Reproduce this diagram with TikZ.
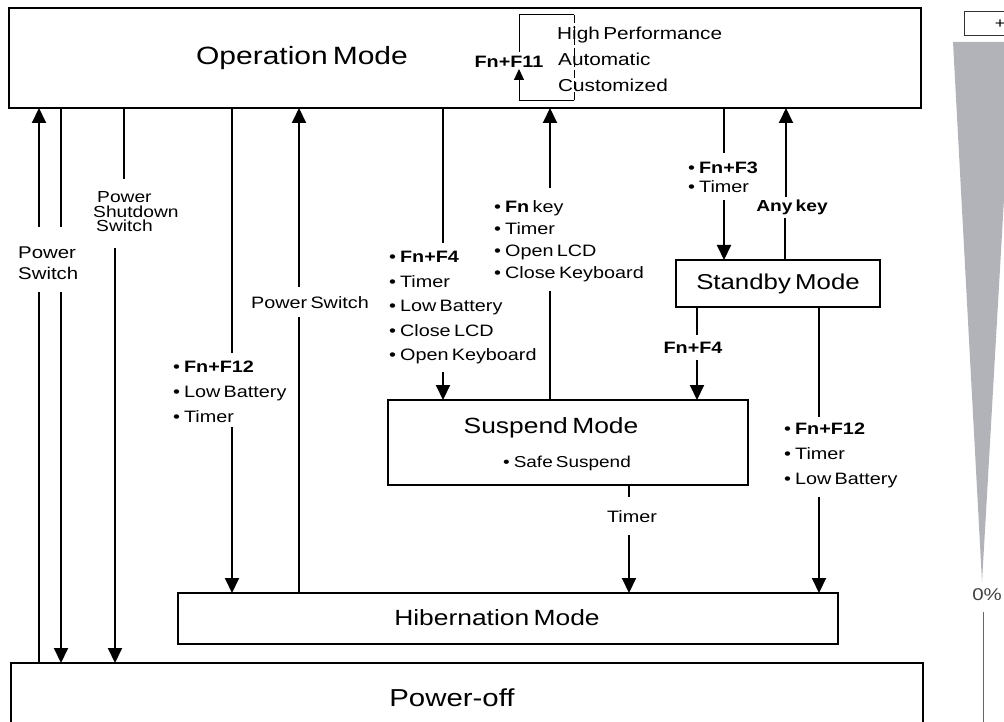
\documentclass[tikz,border=0pt]{standalone}
\usepackage{fontspec}
\setmainfont{Liberation Sans}[FakeStretch=1.2,WordSpace=0.6]
\usetikzlibrary{arrows.meta}
\definecolor{trigray}{RGB}{178,179,184}
\newcommand{\bul}{•\hspace{4pt}}
\begin{document}
\begin{tikzpicture}[x=1pt,y=-1pt,
  box/.style={draw,line width=2.5pt,outer sep=0pt,inner sep=0pt},
  ln/.style={line width=2pt},
  arr/.style={line width=2pt,-{Triangle[length=15pt,width=14pt]}},
  thinln/.style={line width=1pt},
  lab/.style={inner sep=0pt,align=left},
  txt/.style={inner sep=0pt}]
\useasboundingbox (0,0) rectangle (1004,722);
\clip (0,0) rectangle (1004,722);

% boxes
\node[box,minimum width=912pt,minimum height=100pt] (op) at (465,58) {};
\node[box,minimum width=204pt,minimum height=47pt,font=\fontsize{21.5}{24}\selectfont] (sb) at (778,283.5) {Standby Mode};
\node[box,minimum width=360pt,minimum height=85pt] (sus) at (568,442.5) {};
\node[box,minimum width=660pt,minimum height=51pt] (hib) at (508,618.5) {};
\node[box,minimum width=912pt,minimum height=80pt] (off) at (467,703) {};

% box texts
\node[txt,font=\fontsize{25}{28}\selectfont] (optext) at (302,58) {Operation Mode};
\node[txt,font=\fontsize{22}{24}\selectfont] (sustext) at (551,428) {Suspend Mode};
\node[txt,font=\fontsize{15.8}{18}\selectfont] (safe) at (567,463) {\bul Safe Suspend};
\node[txt,font=\fontsize{22}{24}\selectfont] (hibtext) at (497,618) {Hibernation Mode};
\node[txt,font=\fontsize{24.5}{27}\selectfont] (offtext) at (452,698) {Power-off};

% performance modes
\node[txt,anchor=base west,font=\fontsize{17.3}{20}\selectfont] (hp) at (557,40) {High Performance};
\node[txt,anchor=base west,font=\fontsize{17.3}{20}\selectfont] (au) at (558,66) {Automatic};
\node[txt,anchor=base west,font=\fontsize{17.3}{20}\selectfont] (cu) at (558,92) {Customized};
\node[txt,font=\fontsize{16.5}{19}\selectfont] (f11) at (509,62) {\textbf{Fn+F11}};
\coordinate (m1) at (519,52);
\coordinate (m2) at (519,69);
\coordinate (mt) at (519,15);
\coordinate (mtr) at (574,15);
\coordinate (mb) at (519,101);
\coordinate (mbr) at (574,101);
\draw[thinln] (m1) -- (mt) -- (mtr);
\draw[thinln,dash pattern=on 8pt off 3pt] (mtr) -- (mbr);
\draw[thinln,-{Triangle[length=11pt,width=10pt]}] (mbr) -- (mb) -- (m2);

% labels
\node[lab,anchor=west,font=\fontsize{17}{21}\selectfont] (pswl) at (18,263) {Power\\Switch};
\node[lab,anchor=west,font=\fontsize{16}{14.5}\selectfont] (shut) at (93,212) {\hspace{4pt}Power\\Shutdown\\\hspace{3pt}Switch};
\node[txt,font=\fontsize{16.5}{19}\selectfont] (pswm) at (310,303) {Power Switch};
\node[lab,anchor=west,font=\fontsize{16.5}{25}\selectfont] (f12l) at (173,392) {\bul\textbf{Fn+F12}\\\bul Low Battery\\\bul Timer};
\node[lab,anchor=west,font=\fontsize{16.5}{24.5}\selectfont] (f4) at (389,308) {\bul\textbf{Fn+F4}\\\bul Timer\\\bul Low Battery\\\bul Close LCD\\\bul Open Keyboard};
\node[lab,anchor=west,font=\fontsize{16.5}{22}\selectfont] (fnk) at (494,241) {\bul\textbf{Fn} key\\\bul Timer\\\bul Open LCD\\\bul Close Keyboard};
\node[lab,anchor=west,font=\fontsize{16.5}{19}\selectfont] (f3) at (688,177.5) {\bul\textbf{Fn+F3}\\\bul Timer};
\node[txt,font=\fontsize{16}{19}\selectfont] (any) at (792,207) {\textbf{Any key}};
\node[txt,font=\fontsize{16.5}{19}\selectfont] (fn4r) at (693,348) {\textbf{Fn+F4}};
\node[lab,anchor=west,font=\fontsize{16.5}{25}\selectfont] (f12r) at (784,455) {\bul\textbf{Fn+F12}\\\bul Timer\\\bul Low Battery};
\node[txt,font=\fontsize{16.5}{19}\selectfont] (tim) at (632,517) {Timer};

% connectors
\coordinate (a1) at (39,227); \coordinate (a2) at (39,292);
\draw[arr] (a1) -- (a1 |- op.south);
\draw[ln] (a2) -- (a2 |- off.north);
\coordinate (b1) at (61,227); \coordinate (b2) at (61,292);
\draw[ln] (b1 |- op.south) -- (b1);
\draw[arr] (b2) -- (b2 |- off.north);
\coordinate (c1) at (124,179); \coordinate (c2) at (115,248);
\draw[ln] (c1 |- op.south) -- (c1);
\draw[arr] (c2) -- (c2 |- off.north);
\coordinate (d1) at (232,353); \coordinate (d2) at (232,427);
\draw[ln] (d1 |- op.south) -- (d1);
\draw[arr] (d2) -- (d2 |- hib.north);
\coordinate (e1) at (299,317); \coordinate (e2) at (299,287);
\draw[ln] (e1 |- hib.north) -- (e1);
\draw[arr] (e2) -- (e2 |- op.south);
\coordinate (f1) at (443,243); \coordinate (f2) at (443,372);
\draw[ln] (f1 |- op.south) -- (f1);
\draw[arr] (f2) -- (f2 |- sus.north);
\coordinate (g1) at (550,291); \coordinate (g2) at (550,188);
\draw[ln] (g1 |- sus.north) -- (g1);
\draw[arr] (g2) -- (g2 |- op.south);
\coordinate (h1) at (724,153); \coordinate (h2) at (724,200);
\draw[ln] (h1 |- op.south) -- (h1);
\draw[arr] (h2) -- (h2 |- sb.north);
\coordinate (i1) at (785,218); \coordinate (i2) at (786,197);
\draw[ln] (i1 |- sb.north) -- (i1);
\draw[arr] (i2) -- (i2 |- op.south);
\coordinate (j1) at (697,335); \coordinate (j2) at (697,360);
\draw[ln] (j1 |- sb.south) -- (j1);
\draw[arr] (j2) -- (j2 |- sus.north);
\coordinate (k1) at (819,417); \coordinate (k2) at (819,497);
\draw[ln] (k1 |- sb.south) -- (k1);
\draw[arr] (k2) -- (k2 |- hib.north);
\coordinate (l1) at (629,497); \coordinate (l2) at (629,535);
\draw[ln] (l1 |- sus.south) -- (l1);
\draw[arr] (l2) -- (l2 |- hib.north);

% right-hand scale
\draw[line width=1pt,draw=black!80] (964,12) rectangle (1012,36);
\node[txt,font=\fontsize{15}{17}\selectfont] (plus) at (1000,24) {+};
\fill[trigray] (953,42) -- (1013,42) -- (982,582) -- cycle;
\node[txt,font=\fontsize{17}{19}\selectfont,text=black!75] (zero) at (987,595) {0\%};
\coordinate (zl) at (983,612);
\draw[line width=1pt,draw=black!60] (zl) -- (983,730);
\end{tikzpicture}
\end{document}
